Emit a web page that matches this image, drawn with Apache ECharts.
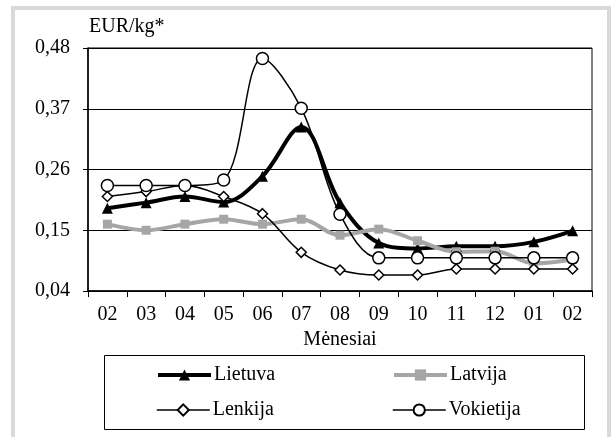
<!DOCTYPE html>
<html>
<head>
<meta charset="utf-8">
<script src="https://cdn.jsdelivr.net/npm/echarts@6/dist/echarts.min.js"></script>
<style>
  html, body { margin: 0; padding: 0; background: #fff; }
  #chart { width: 611px; height: 437px; }
</style>
</head>
<body>
<div id="chart"></div>
<script>
const months = ['02', '03', '04', '05', '06', '07', '08', '09', '10', '11', '12', '01', '02'];
const lietuva = [0.190, 0.200, 0.211, 0.201, 0.248, 0.337, 0.200, 0.127, 0.117, 0.121, 0.121, 0.129, 0.149];
const latvija = [0.161, 0.150, 0.161, 0.170, 0.161, 0.170, 0.141, 0.152, 0.131, 0.111, 0.112, 0.090, 0.097];
const lenkija = [0.211, 0.220, 0.231, 0.211, 0.180, 0.110, 0.078, 0.069, 0.069, 0.080, 0.080, 0.080, 0.080];
const vokietija = [0.231, 0.231, 0.231, 0.241, 0.461, 0.371, 0.179, 0.100, 0.100, 0.100, 0.100, 0.100, 0.100];

const FONT = 'Liberation Serif';
const FS = 20;
const chart = echarts.init(document.getElementById('chart'));

// one legend per entry so the 2x2 layout lines up like the original
function legendAt(name, left, top, lineWidth) {
  return {
    data: [name], left, top, padding: 0,
    itemWidth: 53, itemHeight: 14, itemGap: 0,
    lineStyle: { width: lineWidth },
    textStyle: { fontFamily: FONT, fontSize: FS, color: '#000', padding: [0, 0, 0, -2] }
  };
}

chart.setOption({
  animation: false,
  backgroundColor: '#fff',
  textStyle: { fontFamily: FONT },
  graphic: [
    { type: 'rect', shape: { x: 13, y: 8, width: 596, height: 440 },
      style: { fill: 'none', stroke: '#d9d9d9', lineWidth: 4 }, silent: true },
    { type: 'rect', shape: { x: 104.5, y: 355.5, width: 480, height: 74 },
      style: { fill: 'none', stroke: '#000', lineWidth: 1 }, silent: true },
    { type: 'text', left: 89, top: 17,
      style: { text: 'EUR/kg*', font: FS + 'px "Liberation Serif"', fill: '#000' } }
  ],
  legend: [
    legendAt('Lietuva', 156, 365, 4),
    legendAt('Latvija', 392, 365, 4),
    legendAt('Lenkija', 156, 400, 1.5),
    legendAt('Vokietija', 392, 400, 1.5)
  ],
  grid: { left: 88, right: 19, top: 48, bottom: 146, show: true, borderColor: '#000', borderWidth: 1 },
  xAxis: {
    type: 'category', data: months, boundaryGap: true,
    name: 'Mėnesiai', nameLocation: 'middle', nameGap: 38,
    nameTextStyle: { fontFamily: FONT, fontSize: FS, color: '#000' },
    axisLine: { lineStyle: { color: '#000', width: 1.5 } },
    axisTick: { show: true, length: 6, alignWithLabel: false, lineStyle: { color: '#000' } },
    axisLabel: { fontFamily: FONT, fontSize: FS, color: '#000', margin: 14 }
  },
  yAxis: {
    type: 'value', min: 0.04, max: 0.48, interval: 0.11,
    axisLine: { show: true, lineStyle: { color: '#000', width: 1.5 } },
    axisTick: { show: true, length: 5, lineStyle: { color: '#000' } },
    splitLine: { lineStyle: { color: '#000', width: 1 } },
    axisLabel: { fontFamily: FONT, fontSize: FS, color: '#000', margin: 18,
      formatter: v => v.toFixed(2).replace('.', ',') }
  },
  series: [
    { name: 'Lietuva', type: 'line', data: lietuva, smooth: 0.35,
      symbol: 'triangle', symbolSize: 11,
      lineStyle: { color: '#000', width: 4 }, itemStyle: { color: '#000' } },
    { name: 'Latvija', type: 'line', data: latvija, smooth: 0.35,
      symbol: 'rect', symbolSize: 9,
      lineStyle: { color: '#a6a6a6', width: 4 }, itemStyle: { color: '#a6a6a6' } },
    { name: 'Lenkija', type: 'line', data: lenkija, smooth: 0.35,
      symbol: 'diamond', symbolSize: 10,
      lineStyle: { color: '#000', width: 1.5 },
      itemStyle: { color: '#fff', borderColor: '#000', borderWidth: 1.5 } },
    { name: 'Vokietija', type: 'line', data: vokietija, smooth: 0.35,
      symbol: 'circle', symbolSize: 12,
      lineStyle: { color: '#000', width: 1.5 },
      itemStyle: { color: '#fff', borderColor: '#000', borderWidth: 1.5 } }
  ]
});
</script>
</body>
</html>
